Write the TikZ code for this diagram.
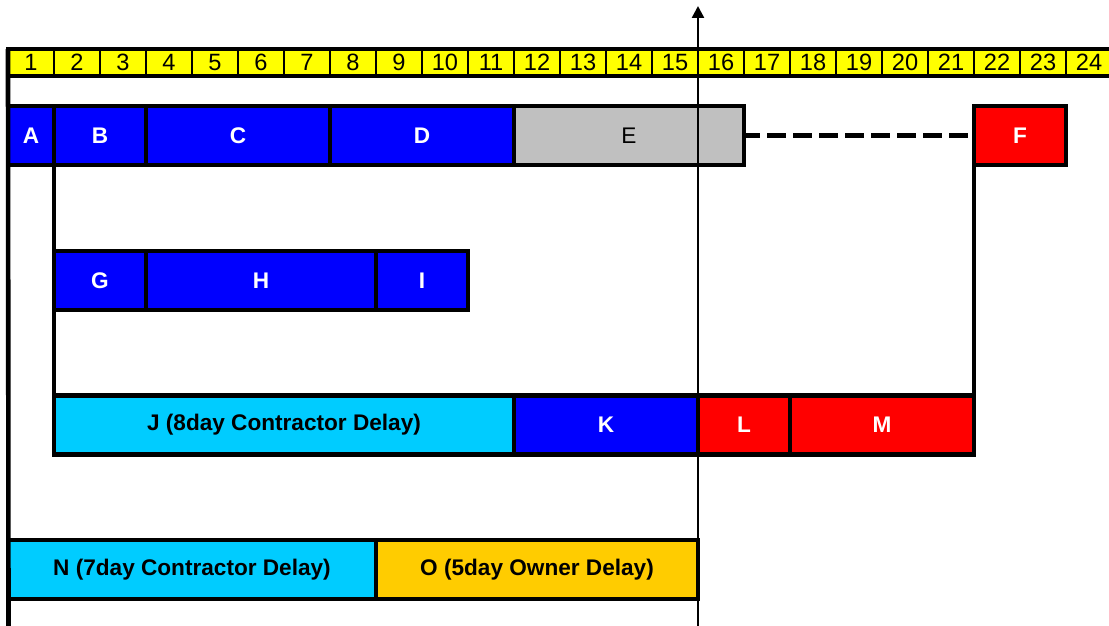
\documentclass[tikz,border=0pt]{standalone}
\usepackage{fontspec}
\setmainfont{Liberation Sans}
\usetikzlibrary{arrows.meta}
\definecolor{cBlue}{HTML}{0000FF}
\definecolor{cCyan}{HTML}{00CCFF}
\definecolor{cGold}{HTML}{FFCC00}
\definecolor{cRed}{HTML}{FF0000}
\definecolor{cGray}{HTML}{C0C0C0}
\definecolor{cYellow}{HTML}{FFFF00}
\begin{document}
\begin{tikzpicture}[x=0.5pt,y=-0.5pt,
  cell/.style={draw=black,line width=1.3pt,fill=cYellow,minimum width=23pt,minimum height=13.5pt,inner sep=0pt,outer sep=0pt,font=\fontsize{11.8}{13}\selectfont},
  bar/.style={draw=black,line width=2.3pt,minimum height=29.5pt,minimum width=#1*23pt,inner sep=0pt,outer sep=0pt,font=\bfseries\fontsize{11.3}{13}\selectfont},
  bluebar/.style={bar=#1,fill=cBlue,text=white},
  redbar/.style={bar=#1,fill=cRed,text=white},
  cyanbar/.style={bar=#1,fill=cCyan,text=black},
  goldbar/.style={bar=#1,fill=cGold,text=black},
  graybar/.style={bar=#1,fill=cGray,text=black,font=\fontsize{11.3}{13}\selectfont},
  link/.style={draw=black,line width=2.3pt},
  dashlink/.style={draw=black,line width=2.5pt,dash pattern=on 9.5pt off 3.5pt,dash phase=1.5pt},
  dateline/.style={draw=black,line width=1.25pt,-{Triangle[width=6pt,length=6pt]}}
]
\useasboundingbox (0,0) rectangle (1109,626);
% timeline
\foreach \i in {1,...,24}{
  \node[cell] (t\i) at ({8+46*(\i-0.5)},62.5) {\i};
}
\draw[line width=2pt] (t1.north west) rectangle (t24.south east);
% free ends
\coordinate (leftbot) at (8.5,626);
\coordinate (ddbot) at (698,626);
\coordinate (ddtop) at (698,6);
% bars row 1
\node[bluebar=1] (A) at (31,135.5) {A};
\node[bluebar=2] (B) at (100,135.5) {B};
\node[bluebar=4] (C) at (238,135.5) {C};
\node[bluebar=4] (D) at (422,135.5) {D};
\node[graybar=5] (E) at (629,135.5) {E};
\node[redbar=2] (F) at (1020,135.5) {F};
% row 2
\node[bluebar=2] (G) at (100,280.5) {G};
\node[bluebar=5] (H) at (261,280.5) {H};
\node[bluebar=2] (I) at (422,280.5) {I};
% row 3
\node[cyanbar=10] (J) at (284,425) {J (8day Contractor Delay)};
\node[bluebar=4] (K) at (606,425) {K};
\node[redbar=2] (L) at (744,425) {L};
\node[redbar=4] (M) at (882,425) {M};
% row 4
\node[cyanbar=8] (N) at (192,569.5) {N (7day Contractor Delay)};
\node[goldbar=7] (O) at (537,569.5) {O (5day Owner Delay)};
% connectors
\draw[link] (t1.north west) -- (leftbot);
\draw[link] (A.south east) -- (J.north west);
\draw[link] (F.south west) -- (M.north east);
\draw[dashlink] (E.east) -- (F.west);
% data date line
\draw[dateline] (ddbot) -- (ddtop);
\end{tikzpicture}
\end{document}
